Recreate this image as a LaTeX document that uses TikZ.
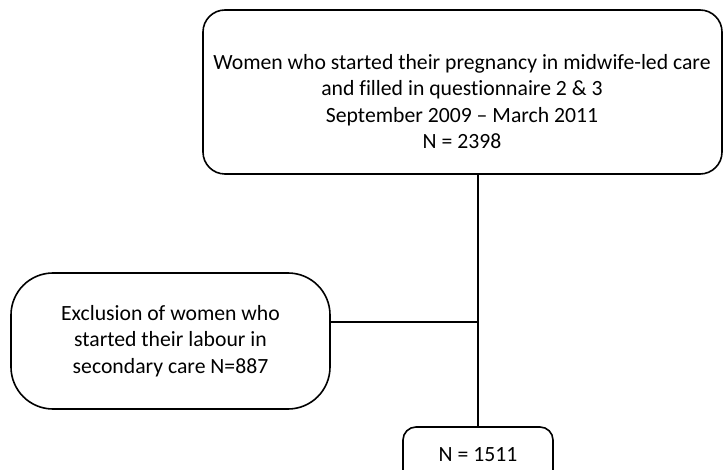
\documentclass[tikz,border=0pt]{standalone}
\usepackage{fontspec}
\setmainfont{Carlito}[Ligatures=NoCommon]
\usepackage{tikz}

\begin{document}
\begin{tikzpicture}[x=1pt, y=-1pt, line width=1.6pt,
  every node/.style={font=\fontsize{21.7}{26.5}\selectfont, align=center, outer sep=0pt},
  roundbox/.style={draw, rounded corners=#1},
  roundbox/.default=22pt]
\useasboundingbox (0,0) rectangle (723,470);

\node[roundbox, minimum width=519pt, minimum height=164pt] (start) at (462.5,92) {};
\node (starttext) at (462,101.5) {Women who started their pregnancy in midwife-led care\\and filled in questionnaire 2 \& 3\\September 2009 -- March 2011\\N = 2398};

\node[roundbox=42pt, minimum width=319pt, minimum height=136pt] (excl) at (170.5,341) {Exclusion of women who\\started their labour in\\secondary care N=887};

\node[roundbox=13pt, minimum width=150pt, minimum height=56pt] (final) at (478,455) {N = 1511};

\coordinate (join) at (477,322);
\draw (final.north |- start.south) -- (final.north);
\draw (excl.east |- join) -- (join);
\end{tikzpicture}
\end{document}
